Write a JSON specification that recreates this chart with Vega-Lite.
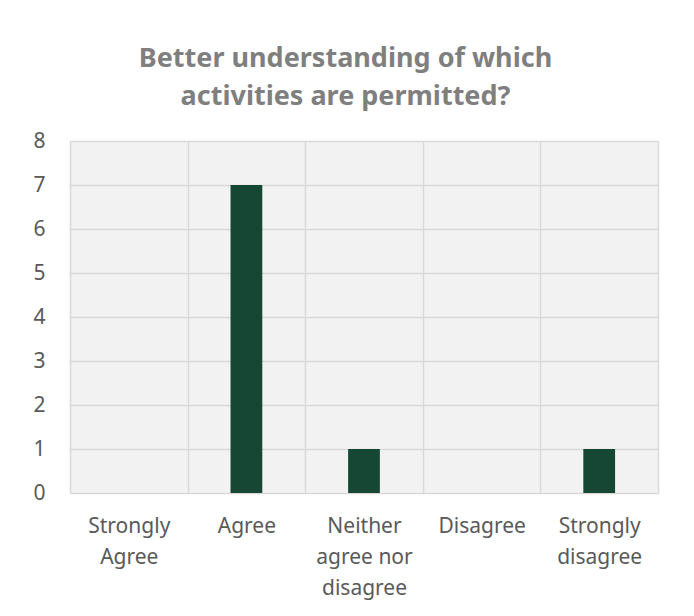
{
  "$schema": "https://vega.github.io/schema/vega-lite/v6.json",
  "width": 588,
  "height": 352,
  "autosize": {"type": "none"},
  "padding": {"left": 70, "top": 141, "right": 36, "bottom": 123},
  "background": "white",
  "title": {
    "text": ["Better understanding of which", "activities are permitted?"],
    "font": "Noto Sans",
    "fontSize": 27,
    "fontWeight": "bold",
    "color": "#7f7f7f",
    "lineHeight": 38,
    "anchor": "middle",
    "frame": "bounds",
    "offset": 19
  },
  "data": {
    "values": [
      {"response": "Strongly Agree", "count": 0},
      {"response": "Agree", "count": 7},
      {"response": "Neither agree nor disagree", "count": 1},
      {"response": "Disagree", "count": 0},
      {"response": "Strongly disagree", "count": 1}
    ]
  },
  "mark": {"type": "bar", "color": "#154734", "width": {"band": 0.27}},
  "encoding": {
    "x": {
      "field": "response",
      "type": "nominal",
      "sort": null,
      "scale": {"paddingInner": 0, "paddingOuter": 0},
      "axis": {
        "title": null,
        "labelAngle": 0,
        "domain": false,
        "ticks": false,
        "grid": true,
        "tickBand": "extent",
        "gridColor": "#d9d9d9",
        "gridWidth": 1.5,
        "labelFont": "Noto Sans",
        "labelFontSize": 21,
        "labelColor": "#595959",
        "labelLineHeight": 31,
        "labelPadding": 22,
        "labelBaseline": "top",
        "labelExpr": "!isValid(datum.value) ? '' : datum.value == 'Neither agree nor disagree' ? ['Neither', 'agree nor', 'disagree'] : split(datum.value, ' ')"
      }
    },
    "y": {
      "field": "count",
      "type": "quantitative",
      "scale": {"domain": [0, 8]},
      "axis": {
        "title": null,
        "values": [0, 1, 2, 3, 4, 5, 6, 7, 8],
        "domain": false,
        "ticks": false,
        "grid": true,
        "gridColor": "#d9d9d9",
        "gridWidth": 1.5,
        "labelFont": "Noto Sans",
        "labelFontSize": 21,
        "labelColor": "#595959",
        "labelPadding": 25
      }
    }
  },
  "config": {
    "view": {"stroke": null, "fill": "#f2f2f2"}
  }
}
